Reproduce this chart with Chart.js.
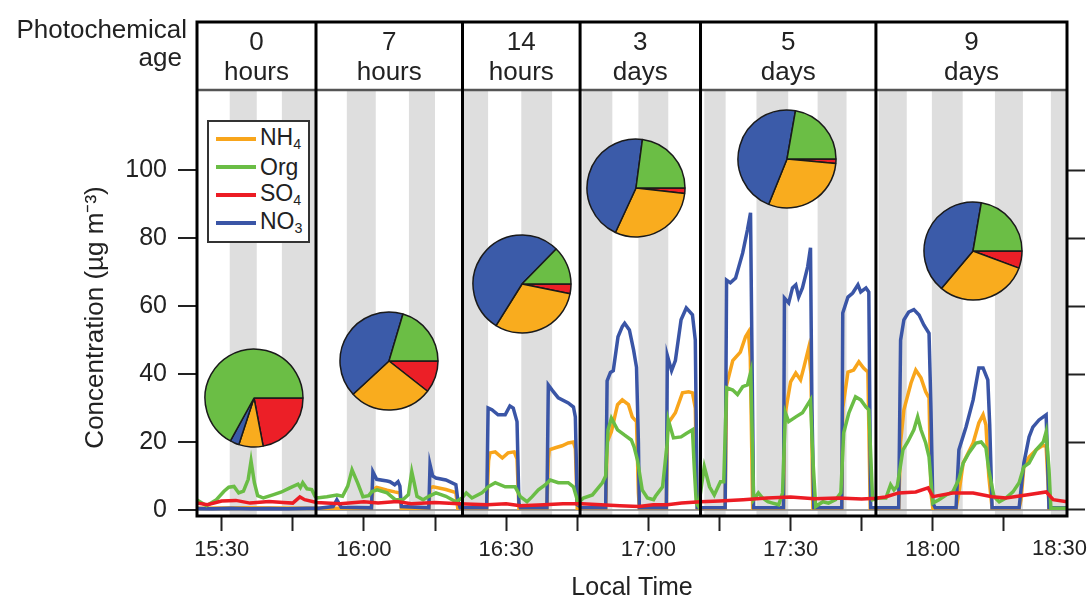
<!DOCTYPE html>
<html>
<head>
<meta charset="utf-8">
<script src="https://cdn.jsdelivr.net/npm/chart.js@4.4.1/dist/chart.umd.min.js"></script>
<style>
  body { margin: 0; background: #fff; }
  #wrap { position: relative; width: 1089px; height: 600px; }
  #main { position: absolute; left: 0; top: 0; }
  .pie { position: absolute; }
  #legend { position: absolute; left: 207px; top: 120px; width: 99px; height: 119px;
    border: 2px solid #333; background: #fff; font: 23px "Liberation Sans", Arial, sans-serif; color: #222; }
  .row { position: absolute; left: 0; height: 28px; display: flex; align-items: center; line-height: 1; }
  .swatch { width: 40px; height: 4px; margin: 0 4px 0 7px; }
  sub { font-size: 62%; vertical-align: -0.3em; }
</style>
</head>
<body>
<div id="wrap">
  <canvas id="main" width="1089" height="600"></canvas>
  <div id="legend"></div>
</div>
<script>
const FONT = '"Liberation Sans", Arial, Helvetica, sans-serif';

// series (legend order)
const seriesNames = ['NH4', 'Org', 'SO4', 'NO3'];
const seriesColors = ['#f8a51b', '#6abd45', '#ec1c24', '#3a55a6'];

// time in minutes after 15:00, concentration in ug m-3
const nh4 = [[24.8,0.5],[35,0.6],[49.9,0.5],[61.6,0.5],[61.9,6.0],[62.7,6.6],[64.9,5.8],[66.5,5.3],[67.6,5.0],[67.9,0.5],
  [73.7,0.5],[73.95,6.5],[74.6,6.8],[77.3,6.0],[79.4,5.1],[79.8,0.5],[85.9,0.5],[86.3,14.5],[86.6,16.8],[87.7,17.1],
  [89.2,15.3],[90.4,16.8],[91.7,17.1],[92.3,15.0],[92.7,0.5],[98.6,0.5],[98.9,15.0],[99.1,17.7],[100.4,18.3],[101.8,18.9],
  [103.1,19.7],[104.2,20.0],[104.6,18.0],[105.0,0.5],[111.0,0.5],[111.3,20.0],[112.2,23.0],[113.0,28.0],[113.5,31.0],
  [114.5,32.4],[115.8,31.0],[116.6,27.4],[117.5,26.0],[117.9,5.0],[118.1,0.5],[123.8,0.5],[124.0,22.0],[124.2,25.6],
  [125.7,28.6],[127.2,34.5],[128.5,34.8],[129.3,34.5],[129.9,30.0],[130.3,0.5],[136.2,0.5],[136.5,36.8],[137.8,44.0],
  [139.4,46.5],[140.5,51.0],[141.1,52.4],[141.5,45.0],[142.0,0.5],[148.5,0.5],[148.7,25.0],[149.0,29.5],[150.0,37.7],
  [151.1,40.3],[152.1,38.3],[152.8,42.0],[153.8,47.7],[154.3,40.0],[154.7,0.5],[160.8,0.5],[161.0,30.0],[162.1,40.6],
  [163.3,41.2],[164.4,43.6],[165.4,41.8],[166.3,40.6],[166.8,0.5],[172.8,0.5],[173.2,20.0],[173.9,29.5],[175.4,37.4],
  [176.4,41.2],[177.5,38.9],[178.5,34.8],[179.2,33.0],[179.6,5.0],[180.0,0.5],[184.9,0.5],[185.5,5.0],[186.4,13.8],
  [188.5,19.7],[189.7,25.6],[190.6,28.0],[191.2,25.0],[191.8,10.0],[192.5,0.5],[198.2,0.5],[198.6,3.0],[199.2,12.7],
  [200.3,15.6],[201.8,17.7],[203.3,19.1],[203.9,18.6],[204.3,8.0],[204.5,0.5],[208.3,0.5]];

const org = [[24.8,2.9],[26.8,1.2],[28.9,3.0],[30.5,5.5],[31.5,6.7],[32.6,6.9],[33.6,5.0],[34.6,5.5],[35.6,9.0],[36.2,14.4],
  [36.9,8.0],[37.6,4.2],[38.8,3.5],[40.8,4.4],[42.5,5.2],[44.4,6.5],[46.1,7.6],[46.6,6.6],[47.1,8.0],[48.0,6.2],[49.0,6.0],
  [49.7,4.0],[50.1,3.5],[52.2,3.9],[54.3,4.4],[55.5,4.0],[56.6,7.0],[57.5,11.8],[58.7,7.9],[59.8,3.9],[61.0,4.2],[61.7,5.4],
  [62.8,5.9],[64.9,5.0],[66.6,3.0],[68.2,3.0],[69.4,4.5],[70.1,11.2],[70.6,8.0],[71.2,4.0],[72.5,3.0],[73.7,4.0],[75.2,5.0],
  [77.3,4.0],[79.4,2.4],[80.7,3.5],[81.6,5.0],[82.8,3.5],[84.9,5.0],[86.2,6.8],[87.7,8.0],[89.8,6.8],[91.9,6.8],[93.0,3.9],
  [94.4,2.4],[95.5,3.9],[96.8,5.9],[98.3,7.4],[99.3,8.8],[101.0,8.0],[103.1,8.0],[104.2,6.8],[105.2,2.0],[106.3,3.5],
  [108.2,4.4],[110.3,8.0],[111.0,10.0],[111.5,23.6],[112.2,27.0],[113.5,23.6],[115.0,22.0],[116.4,20.6],[117.0,18.5],
  [117.7,14.7],[118.7,5.9],[119.8,3.5],[121.1,3.0],[121.5,4.0],[123.0,6.8],[124.0,20.0],[124.2,26.5],[125.3,21.2],
  [126.9,21.5],[128.0,22.5],[129.3,23.6],[129.7,12.0],[130.1,2.0],[130.6,1.0],[131.3,8.0],[131.8,12.7],[132.9,6.8],
  [133.9,4.4],[135.2,8.3],[135.9,8.3],[136.5,36.0],[137.8,35.3],[138.8,34.0],[139.9,36.3],[140.9,36.8],[141.6,40.6],
  [142.2,3.0],[143.2,5.0],[144.1,3.5],[145.2,2.4],[146.2,2.0],[147.5,1.5],[148.3,5.0],[148.9,28.6],[149.6,26.0],
  [151.1,27.4],[152.5,28.6],[154.2,32.4],[154.7,15.0],[155.3,1.0],[156.8,2.4],[158.0,2.0],[159.5,3.0],[160.6,5.0],
  [161.2,22.7],[162.3,28.6],[163.7,33.3],[164.8,32.4],[165.9,30.3],[166.5,29.5],[167.3,3.0],[168.6,3.5],[170.1,3.5],
  [171.1,7.4],[171.8,5.9],[172.5,7.0],[173.7,17.7],[174.7,20.0],[176.0,23.6],[176.8,27.4],[177.5,23.6],[178.5,19.7],
  [179.2,15.6],[180.0,2.0],[181.3,3.0],[182.8,4.4],[184.2,5.3],[185.5,9.0],[186.4,13.8],[187.6,16.8],[189.1,19.7],
  [190.2,20.0],[191.2,18.3],[191.8,11.8],[192.9,3.9],[194.0,2.4],[195.4,3.5],[196.9,5.3],[198.2,8.0],[199.2,12.7],
  [200.3,13.8],[201.8,17.7],[203.3,20.0],[203.9,23.0],[204.5,12.0],[204.9,0.5],[208.3,0.5]];

const so4 = [[24.8,2.0],[27,1.5],[30,2.6],[33,2.8],[36,2.0],[40,2.5],[43,2.2],[45,2.0],[46.5,3.8],[47.5,3.0],[50,2.2],
  [55,1.8],[60,2.4],[63,2.0],[67,2.5],[70,1.8],[75,2.2],[80,1.8],[86,1.5],[90,1.8],[93,1.2],[98,1.5],[102,1.8],[106,1.8],
  [110,1.5],[114,1.2],[118,1.0],[121,1.5],[124,1.5],[127,2.0],[131,2.4],[135,2.6],[140,3.0],[145,3.5],[150,3.8],[155,3.3],
  [160,3.5],[165,3.2],[168,3.4],[170,3.8],[172.8,5.0],[176.4,5.3],[179,6.5],[180,3.9],[184.2,5.0],[188.5,5.0],[192.5,3.9],
  [195.4,3.5],[199.7,4.4],[203.9,5.3],[205.4,3.0],[208.3,2.4]];

const no3 = [[24.8,0.4],[28,0.3],[32,0.5],[36,0.3],[40,0.4],[44,0.3],[48,0.5],[50.5,0.5],[53.5,1.0],[54.3,3.0],[55.2,0.8],
  [61.6,0.6],[61.9,11.2],[62.7,9.0],[64.9,8.5],[65.5,8.3],[66.5,7.4],[67.2,8.3],[67.6,7.0],[67.9,1.0],[73.7,0.6],
  [73.95,13.3],[74.5,10.0],[75.2,9.4],[77.3,8.8],[79.4,7.4],[79.8,3.0],[80.3,0.6],[85.9,0.6],[86.2,30.0],[87.0,29.5],
  [88.3,28.0],[89.8,28.0],[90.8,30.6],[91.5,30.0],[92.3,26.0],[92.7,2.0],[93.0,0.6],[98.6,0.6],[98.9,36.8],[99.7,35.3],
  [101.0,33.0],[103.1,31.5],[104.2,30.3],[104.6,27.4],[105.0,1.5],[106,0.6],[111.0,0.6],[111.3,38.0],[112.0,40.5],
  [112.6,41.0],[113.6,51.0],[114.5,54.0],[115.0,55.0],[116.0,53.0],[116.9,47.0],[117.5,42.0],[117.9,20.0],[118.1,0.6],
  [123.8,0.6],[124.0,45.5],[124.9,41.0],[125.7,44.0],[126.9,56.0],[128.0,59.5],[129.3,57.5],[129.9,50.0],[130.3,0.6],
  [136.2,0.6],[136.5,67.7],[137.3,66.9],[138.4,68.3],[139.9,75.7],[140.9,82.5],[141.55,87.5],[141.9,40.0],[142.2,0.6],
  [148.5,0.6],[148.7,62.4],[149.6,61.0],[150.4,65.4],[151.1,66.3],[151.7,62.7],[152.5,65.4],[153.6,71.6],[154.2,77.2],
  [154.5,30.0],[154.9,0.6],[160.8,0.6],[161.0,58.0],[162.1,62.7],[163.1,63.9],[164.2,66.3],[164.8,64.2],[165.9,65.4],
  [166.5,64.2],[166.9,0.6],[172.8,0.6],[173.2,50.0],[173.9,56.0],[174.9,58.3],[176.0,59.0],[177.1,57.4],[178.1,54.5],
  [179.2,52.0],[179.6,30.0],[180.0,2.0],[180.5,0.6],[184.9,0.6],[185.5,17.7],[187.0,24.4],[188.5,32.4],[189.7,41.8],
  [190.6,41.8],[191.6,38.3],[192.0,25.0],[192.5,0.6],[198.2,0.6],[198.6,6.0],[199.2,13.8],[200.3,21.5],[201.1,24.4],
  [202.4,26.5],[203.9,28.0],[204.2,15.0],[204.5,0.6],[208.3,0.6]];

// photochemical age panels
const ageValue = ['0', '7', '14', '3', '5', '9'];
const ageUnit = ['hours', 'hours', 'hours', 'days', 'days', 'days'];
const panelEdges = [24.8, 49.9, 80.8, 105.6, 131.0, 168.0, 208.3];

// grey (ambient) periods
const shadeStart = [31.7, 42.7, 56.4, 69.5, 80.8, 93.2, 106.1, 117.9, 131.8, 142.8, 155.7, 168.6, 179.8, 193.1, 204.9];
const shadeEnd = [37.4, 49.9, 62.5, 75.0, 86.2, 99.7, 112.4, 124.2, 136.3, 149.5, 161.8, 174.5, 186.3, 199.0, 208.3];

// pie fractions (%) per panel
const pieSO4 = [22, 10.6, 3.2, 1.8, 1.5, 5.7];
const pieNH4 = [8, 27.5, 30.7, 30.1, 29.6, 30.5];
const pieNO3 = [3, 41.5, 53.4, 45.2, 46.6, 41.6];
const pieOrg = [67, 20.4, 12.7, 22.9, 22.2, 22.3];

const yTicks = [0, 20, 40, 60, 80, 100];
const xTicks = [30, 45, 60, 75, 90, 105, 120, 135, 150, 165, 180, 195];
const xEndLabel = '18:30';

// layout of the pies on the page
const pieCenters = [[254, 398], [389, 361], [522, 284], [636, 188], [787, 159], [973, 251]];
const pieRadius = 49;

function toXY(arr) { return arr.map(p => ({x: p[0], y: p[1]})); }

function timeLabel(v) {
  if (v % 30 !== 0) return '';
  const h = 15 + Math.floor(v / 60);
  const m = v % 60;
  return h + ':' + (m < 10 ? '0' + m : m);
}

const framePlugin = {
  id: 'frame',
  beforeDraw(chart) {
    const {ctx, chartArea: a, scales: {x}} = chart;
    ctx.save();
    ctx.fillStyle = '#dedede';
    shadeStart.forEach((s, i) => {
      const x0 = x.getPixelForValue(s);
      const x1 = x.getPixelForValue(shadeEnd[i]);
      ctx.fillRect(x0, a.top, x1 - x0, a.bottom - a.top);
    });
    ctx.restore();
  },
  afterDraw(chart) {
    const {ctx, chartArea: a, scales: {x}} = chart;
    const top = 22;
    const line = (x0, y0, x1, y1) => { ctx.beginPath(); ctx.moveTo(x0, y0); ctx.lineTo(x1, y1); ctx.stroke(); };
    ctx.save();
    ctx.strokeStyle = '#555';
    ctx.lineWidth = 2.5;
    line(a.left, a.top, a.right, a.top);
    ctx.strokeStyle = '#000';
    ctx.lineWidth = 3;
    ctx.strokeRect(a.left, top, a.right - a.left, a.bottom - top);
    panelEdges.slice(1, -1).forEach(v => {
      const px = x.getPixelForValue(v);
      line(px, top, px, a.bottom);
    });
    ctx.fillStyle = '#222';
    ctx.font = '26px ' + FONT;
    ctx.textAlign = 'center';
    ctx.textBaseline = 'alphabetic';
    for (let i = 0; i < ageValue.length; i++) {
      const cx = (x.getPixelForValue(panelEdges[i]) + x.getPixelForValue(panelEdges[i + 1])) / 2;
      ctx.fillText(ageValue[i], cx, 50);
      ctx.fillText(ageUnit[i], cx, 80);
    }
    ctx.textAlign = 'right';
    ctx.fillText('Photochemical', 187, 38);
    ctx.fillText('age', 182, 66);
    // last time label sits at the page edge
    ctx.font = '22px ' + FONT;
    ctx.textAlign = 'right';
    ctx.textBaseline = 'middle';
    ctx.fillText(xEndLabel, chart.width - 2, 549);
    ctx.restore();
  }
};

const lineSets = [
  {label: 'SO4', data: so4, color: seriesColors[2]},
  {label: 'Org', data: org, color: seriesColors[1]},
  {label: 'NO3', data: no3, color: seriesColors[3]},
  {label: 'NH4', data: nh4, color: seriesColors[0]}
];

const chart = new Chart(document.getElementById('main'), {
  type: 'line',
  data: {
    datasets: lineSets.map(s => ({
      label: s.label,
      data: toXY(s.data),
      borderColor: s.color,
      borderWidth: 3.5,
      pointRadius: 0,
      tension: 0,
      fill: false
    }))
  },
  options: {
    responsive: false,
    animation: false,
    layout: {autoPadding: false, padding: {left: 0, right: 0, top: 90, bottom: 0}},
    plugins: {legend: {display: false}, tooltip: {enabled: false}},
    scales: {
      x: {
        type: 'linear',
        min: panelEdges[0],
        max: panelEdges[panelEdges.length - 1],
        afterBuildTicks: s => { s.ticks = xTicks.map(v => ({value: v})); },
        afterFit: s => { s.height = 84; },
        border: {display: false},
        grid: {drawOnChartArea: false, tickLength: 15, tickWidth: 2, tickColor: '#222'},
        ticks: {
          autoSkip: false,
          maxRotation: 0,
          padding: 6,
          color: '#222',
          font: {family: FONT, size: 22},
          callback: v => timeLabel(v)
        },
        title: {
          display: true,
          text: 'Local Time',
          color: '#222',
          font: {family: FONT, size: 25},
          padding: {top: 0, bottom: -3}
        }
      },
      y: {
        min: -1.8,
        max: 123.7,
        afterBuildTicks: s => { s.ticks = yTicks.map(v => ({value: v})); },
        afterFit: s => { s.width = 197; },
        border: {display: false},
        grid: {
          color: ctx => ctx.tick && ctx.tick.value === 0 ? '#9a9a9a' : 'rgba(0,0,0,0)',
          lineWidth: 2,
          tickLength: 19,
          tickWidth: 2,
          tickColor: '#222'
        },
        ticks: {padding: 11, color: '#222', font: {family: FONT, size: 25}},
        title: {
          display: true,
          text: 'Concentration (µg m⁻³)\u00a0\u00a0\u00a0\u00a0',
          color: '#222',
          font: {family: FONT, size: 26},
          padding: {top: 80, bottom: 0}
        }
      },
      y2: {
        position: 'right',
        min: -1.8,
        max: 123.7,
        afterBuildTicks: s => { s.ticks = yTicks.map(v => ({value: v})); },
        afterFit: s => { s.width = 22; },
        border: {display: false},
        grid: {drawOnChartArea: false, tickLength: 18, tickWidth: 2, tickColor: '#222'},
        ticks: {display: false}
      }
    }
  },
  plugins: [framePlugin]
});

// composition pies
const wrap = document.getElementById('wrap');
pieCenters.forEach((c, i) => {
  const size = 2 * pieRadius + 6;
  const cv = document.createElement('canvas');
  cv.className = 'pie';
  cv.width = size;
  cv.height = size;
  cv.style.left = (c[0] - size / 2) + 'px';
  cv.style.top = (c[1] - size / 2) + 'px';
  wrap.appendChild(cv);
  new Chart(cv, {
    type: 'pie',
    data: {
      labels: ['SO4', 'NH4', 'NO3', 'Org'],
      datasets: [{
        data: [pieSO4[i], pieNH4[i], pieNO3[i], pieOrg[i]],
        backgroundColor: ['#ec1f27', '#f9ac1e', '#3b5ba9', '#6bbe45'],
        borderColor: '#1a1a1a',
        borderWidth: 1.5
      }]
    },
    options: {
      responsive: false,
      animation: false,
      rotation: 90,
      radius: pieRadius,
      layout: {padding: 0},
      plugins: {legend: {display: false}, tooltip: {enabled: false}}
    }
  });
});

// legend box
const legend = document.getElementById('legend');
seriesNames.forEach((name, i) => {
  const row = document.createElement('div');
  row.className = 'row';
  row.style.top = (3 + i * 28) + 'px';
  row.innerHTML = '<span class="swatch" style="background:' + seriesColors[i] + '"></span>' +
    '<span>' + name.replace(/(\d)/, '<sub>$1</sub>') + '</span>';
  legend.appendChild(row);
});
</script>
</body>
</html>
